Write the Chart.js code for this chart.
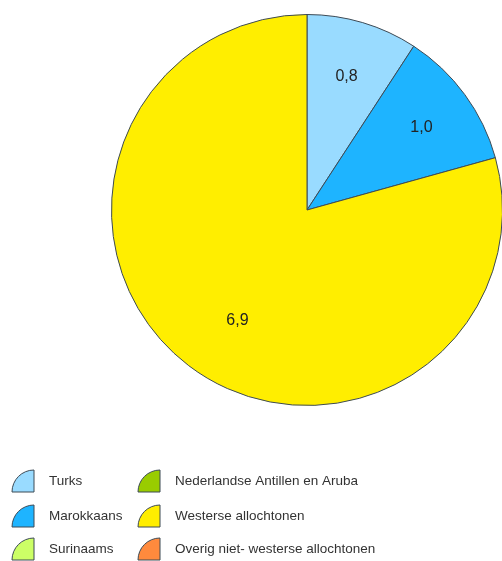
<!DOCTYPE html>
<html lang="nl">
<head>
  <meta charset="UTF-8">
  <title>Allochtonen</title>
  <script src="https://cdn.jsdelivr.net/npm/chart.js"></script>
  <style>
    html, body { margin: 0; padding: 0; background: #fff; overflow: hidden; }
    #wrap { position: absolute; left: 0; top: 0; width: 503px; height: 561px; }
  </style>
</head>
<body>
  <div id="wrap"><canvas id="pie" width="503" height="561"></canvas></div>

  <script>
    // categories and values
    const categories = ['Turks', 'Marokkaans', 'Surinaams', 'Nederlandse Antillen en Aruba', 'Westerse allochtonen', 'Overig niet- westerse allochtonen'];
    const values = [0.8, 1.0, 0, 0, 6.9, 0];
    const colors = ['#99dbff', '#1eb4ff', '#ccff66', '#99cc00', '#ffee00', '#ff8a3d'];

    // legend layout: two columns, three rows
    const legendCols = [[0, 1, 2], [3, 4, 5]];
    const legendX = [12, 138];
    const legendY = [481, 516, 549];

    const fmt = v => v.toFixed(1).replace('.', ',');

    // label placement inside each arc (radius fraction, angle nudge in radians)
    const labelRadius = [0.71, 0.72, 0.7, 0.7, 0.67, 0.7];
    const labelNudge = [0, 0.01, 0, 0, -0.09, 0];

    // slice labels drawn inside the arcs
    const sliceLabels = {
      id: 'sliceLabels',
      afterDatasetsDraw(chart) {
        const ctx = chart.ctx;
        const meta = chart.getDatasetMeta(0);
        ctx.save();
        ctx.font = '16px "Liberation Sans", Arial, sans-serif';
        ctx.fillStyle = '#222';
        ctx.textAlign = 'center';
        ctx.textBaseline = 'middle';
        meta.data.forEach((arc, i) => {
          if (!values[i]) return;
          const p = arc.getProps(['x', 'y', 'startAngle', 'endAngle', 'outerRadius'], true);
          const mid = (p.startAngle + p.endAngle) / 2 + labelNudge[i];
          const r = p.outerRadius * labelRadius[i];
          ctx.fillText(fmt(values[i]), p.x + Math.cos(mid) * r, p.y + Math.sin(mid) * r);
        });
        ctx.restore();
      }
    };

    // legend with quarter-pie icons
    const pieLegend = {
      id: 'pieLegend',
      afterDraw(chart) {
        const ctx = chart.ctx;
        ctx.save();
        legendCols.forEach((col, c) => {
          col.forEach((idx, r) => {
            const x = legendX[c], y = legendY[r];
            const s = 22;
            ctx.beginPath();
            ctx.moveTo(x + s, y + 11);
            ctx.lineTo(x, y + 11);
            ctx.arc(x + s, y + 11, s, Math.PI, Math.PI * 1.5);
            ctx.closePath();
            ctx.fillStyle = colors[idx];
            ctx.fill();
            ctx.lineWidth = 1;
            ctx.strokeStyle = '#3d4a55';
            ctx.stroke();

            ctx.font = '13.5px "Liberation Sans", Arial, sans-serif';
            ctx.fillStyle = '#333';
            ctx.textAlign = 'left';
            ctx.textBaseline = 'middle';
            ctx.fillText(categories[idx], x + 37, y);
          });
        });
        ctx.restore();
      }
    };

    new Chart(document.getElementById('pie'), {
      type: 'pie',
      data: {
        labels: categories,
        datasets: [{
          data: values,
          backgroundColor: colors,
          borderColor: '#3d4a55',
          borderWidth: 1
        }]
      },
      options: {
        responsive: false,
        animation: false,
        layout: { padding: { left: 111, top: 14, right: 0, bottom: 155 } },
        plugins: {
          legend: { display: false },
          tooltip: { enabled: false }
        }
      },
      plugins: [sliceLabels, pieLegend]
    });
  </script>
</body>
</html>
